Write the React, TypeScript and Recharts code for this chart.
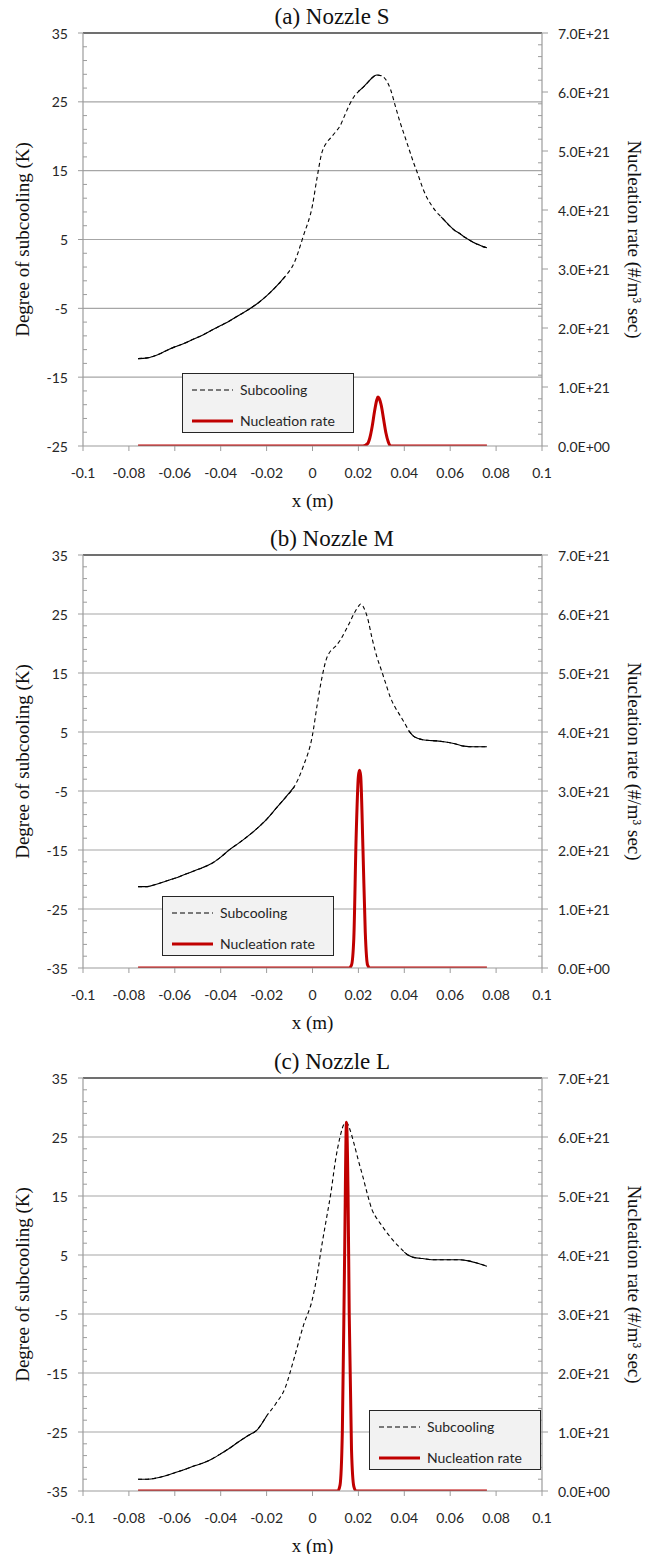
import {
  LineChart,
  Line,
  XAxis,
  YAxis,
  ReferenceLine,
  Legend,
} from "recharts";

// x positions (m) and tick labels shared by all three panels
const X_TICKS = [-0.1, -0.08, -0.06, -0.04, -0.02, 0, 0.02, 0.04, 0.06, 0.08, 0.1];
const E21 = 1e21;

// (a) Nozzle S
const A_SUB_X = [
  -0.076, -0.072, -0.068, -0.064, -0.06, -0.056, -0.052, -0.048, -0.044, -0.04,
  -0.036, -0.032, -0.028, -0.024, -0.02, -0.016, -0.012, -0.008, -0.004, 0,
  0.002, 0.004, 0.006, 0.008, 0.01, 0.012, 0.014, 0.016, 0.018, 0.02, 0.022,
  0.024, 0.026, 0.028, 0.03, 0.032, 0.034, 0.036, 0.038, 0.04, 0.042, 0.044,
  0.046, 0.048, 0.05, 0.052, 0.054, 0.056, 0.058, 0.06, 0.062, 0.064, 0.066,
  0.068, 0.07, 0.072, 0.074, 0.076,
];
const A_SUB_Y = [
  -12.3, -12.2, -11.8, -11.2, -10.6, -10.1, -9.5, -8.9, -8.2, -7.5, -6.8, -6.0,
  -5.2, -4.3, -3.2, -1.9, -0.4, 1.6, 5.5, 10.0, 14.0, 17.5, 19.0, 19.8, 20.6,
  21.5, 23.0, 24.5, 25.7, 26.5, 27.1, 27.8, 28.5, 28.9, 28.8, 28.2, 26.8, 24.5,
  22.2, 20.2, 18.2, 16.2, 14.4, 12.5, 11.0, 9.9, 9.0, 8.3, 7.6, 6.9, 6.3, 5.9,
  5.4, 5.0, 4.6, 4.3, 4.0, 3.8,
];
const A_NUC_X = [-0.076, 0.022, 0.024, 0.025, 0.026, 0.027, 0.028, 0.0285, 0.029, 0.03, 0.031, 0.032, 0.033, 0.034, 0.076];
const A_NUC_Y = [0, 0, 0.04, 0.14, 0.33, 0.58, 0.78, 0.83, 0.81, 0.68, 0.45, 0.22, 0.07, 0, 0];

// (b) Nozzle M
const B_SUB_X = [
  -0.076, -0.072, -0.068, -0.064, -0.06, -0.056, -0.052, -0.048, -0.044, -0.04,
  -0.036, -0.032, -0.028, -0.024, -0.02, -0.016, -0.012, -0.008, -0.004, 0,
  0.002, 0.004, 0.006, 0.008, 0.01, 0.012, 0.014, 0.016, 0.018, 0.02, 0.021,
  0.022, 0.024, 0.026, 0.028, 0.03, 0.032, 0.034, 0.036, 0.038, 0.04, 0.042,
  0.044, 0.046, 0.048, 0.05, 0.054, 0.058, 0.062, 0.066, 0.07, 0.076,
];
const B_SUB_Y = [
  -21.2, -21.2, -20.8, -20.3, -19.8, -19.2, -18.6, -18.0, -17.3, -16.2, -14.9,
  -13.8, -12.6, -11.3, -9.8, -8.0, -6.2, -4.3, -0.8, 4.5, 9.5, 14.0, 17.3, 18.8,
  19.5, 20.5, 21.9, 23.4, 25.0, 26.3, 26.7, 26.3, 24.3, 20.8, 17.8, 15.5, 13.1,
  10.8, 9.2, 7.9, 6.6, 5.2, 4.3, 3.9, 3.7, 3.6, 3.5, 3.3, 3.0, 2.6, 2.5, 2.5,
];
const B_NUC_X = [-0.076, 0.016, 0.017, 0.018, 0.019, 0.02, 0.0205, 0.021, 0.022, 0.023, 0.024, 0.025, 0.076];
const B_NUC_Y = [0, 0, 0.05, 0.5, 2.2, 3.25, 3.35, 3.25, 2.0, 0.6, 0.05, 0, 0];

// (c) Nozzle L
const C_SUB_X = [
  -0.076, -0.072, -0.068, -0.064, -0.06, -0.056, -0.052, -0.048, -0.044, -0.04,
  -0.036, -0.032, -0.028, -0.024, -0.02, -0.016, -0.012, -0.008, -0.004, 0,
  0.002, 0.004, 0.006, 0.008, 0.01, 0.012, 0.014, 0.015, 0.016, 0.018, 0.02,
  0.022, 0.024, 0.026, 0.028, 0.03, 0.032, 0.034, 0.036, 0.038, 0.04, 0.042,
  0.044, 0.048, 0.052, 0.056, 0.06, 0.064, 0.068, 0.072, 0.076,
];
const C_SUB_Y = [
  -33.0, -33.0, -32.8, -32.4, -31.9, -31.4, -30.8, -30.3, -29.6, -28.7, -27.7,
  -26.6, -25.6, -24.6, -22.3, -20.2, -17.6, -12.5, -7.0, -2.4, 1.5, 6.5, 11.0,
  15.5, 21.0, 25.0, 27.3, 27.4, 26.6, 24.0, 21.0, 18.2, 15.2, 12.6, 11.2, 10.1,
  9.0, 8.0, 7.1, 6.3, 5.5, 4.9, 4.6, 4.4, 4.2, 4.2, 4.2, 4.2, 4.0, 3.6, 3.1,
];
const C_NUC_X = [-0.076, 0.011, 0.012, 0.013, 0.014, 0.0148, 0.0155, 0.016, 0.017, 0.018, 0.019, 0.076];
const C_NUC_Y = [0, 0, 0.1, 1.0, 4.0, 6.25, 5.0, 3.0, 0.7, 0.08, 0, 0];

const AXIS = "#9c9c9c";
const GRID = "#a6a6a6";
const TEXT = "#262626";
const TICK_FONT = { fill: TEXT, fontSize: 14, fontFamily: "Lato" };
const SERIF = "'Liberation Serif', 'Times New Roman', serif";
const PLOT_LEFT = 83;
const PLOT_RIGHT = 542;

type Pt = { x: number; y: number };

const zip = (xs: number[], ys: number[], scale = 1): Pt[] =>
  xs.map((x, i) => ({ x, y: ys[i] * scale }));

const steps = (from: number, to: number, step: number) => {
  const out: number[] = [];
  for (let v = from; v <= to + 1e-9; v += step) out.push(Math.round(v * 1000) / 1000);
  return out;
};

// right axis: labels every 1E21, small inner ticks every 0.2E21
const RATE_TICKS = steps(0, 7, 0.2).map((v) => v * E21);

const sci = (v: number) => {
  if (v === 0) return "0.0E+00";
  const e = Math.floor(Math.log10(v) + 1e-9);
  return `${(v / 10 ** e).toFixed(1)}E+${e}`;
};

// Excel style: long ticks outside for labelled values, short ticks inside otherwise
const makeLeftTick = (yMin: number) => (props: any) => {
  const { y, payload } = props;
  const v = payload.value as number;
  const major = Math.abs((v - yMin) % 10) < 1e-6;
  return (
    <g>
      {major ? (
        <>
          <line x1={PLOT_LEFT - 5} x2={PLOT_LEFT} y1={y} y2={y} stroke={AXIS} />
          <text x={PLOT_LEFT - 15} y={y} textAnchor="end" dominantBaseline="central" {...TICK_FONT}>
            {v}
          </text>
        </>
      ) : (
        <line x1={PLOT_LEFT} x2={PLOT_LEFT + 4} y1={y} y2={y} stroke={AXIS} />
      )}
    </g>
  );
};

const RightTick = (props: any) => {
  const { y, payload } = props;
  const v = payload.value as number;
  const major = Math.round(v / 1e20) % 10 === 0;
  return (
    <g>
      {major ? (
        <>
          <line x1={PLOT_RIGHT} x2={PLOT_RIGHT + 6} y1={y} y2={y} stroke={AXIS} />
          <text x={PLOT_RIGHT + 16} y={y} textAnchor="start" dominantBaseline="central" {...TICK_FONT}>
            {sci(v)}
          </text>
        </>
      ) : (
        <line x1={PLOT_RIGHT - 4} x2={PLOT_RIGHT} y1={y} y2={y} stroke={AXIS} />
      )}
    </g>
  );
};

const LeftTitle = (props: any) => {
  const vb = props.viewBox || { y: 33, height: 413 };
  const cy = vb.y + vb.height / 2;
  return (
    <text x={22} y={cy} transform={`rotate(-90 22 ${cy})`} textAnchor="middle"
      dominantBaseline="central" fontFamily={SERIF} fontSize={19} fill="#111">
      Degree of subcooling (K)
    </text>
  );
};

const RightTitle = (props: any) => {
  const vb = props.viewBox || { y: 33, height: 413 };
  const cy = vb.y + vb.height / 2;
  return (
    <text x={634} y={cy} transform={`rotate(90 634 ${cy})`} textAnchor="middle"
      dominantBaseline="central" fontFamily={SERIF} fontSize={19} fill="#111">
      Nucleation rate (#/m³ sec)
    </text>
  );
};

const XTitle = (props: any) => {
  const vb = props.viewBox || { x: 83, y: 446, width: 459 };
  return (
    <text x={vb.x + vb.width / 2} y={vb.y + 54} textAnchor="middle"
      dominantBaseline="central" fontFamily={SERIF} fontSize={19} fill="#111">
      x (m)
    </text>
  );
};

const LegendBox = () => (
  <div
    style={{
      width: 172,
      height: 60,
      boxSizing: "border-box",
      border: "1.5px solid #262626",
      background: "#f2f2f2",
      fontFamily: "Lato",
      fontSize: 14,
      color: TEXT,
      position: "relative",
    }}
  >
    <svg width={44} height={60} style={{ position: "absolute", left: 8, top: 0 }}>
      <line x1={1} y1={16} x2={42} y2={16} stroke="#000" strokeWidth={1} strokeDasharray="5 3" />
      <line x1={1} y1={47} x2={42} y2={47} stroke="#c00000" strokeWidth={3} />
    </svg>
    <div style={{ position: "absolute", left: 57, top: 6, lineHeight: "20px" }}>Subcooling</div>
    <div style={{ position: "absolute", left: 57, top: 37, lineHeight: "20px" }}>Nucleation rate</div>
  </div>
);

interface PanelProps {
  title: string;
  top: number;
  yMin: number;
  sub: Pt[];
  nuc: Pt[];
  // x ranges where the densely sampled curve reads as a solid stroke
  solid: [number, number][];
  legendLeft: number;
  legendTop: number;
}

const NozzlePanel = ({ title, top, yMin, sub, nuc, solid, legendLeft, legendTop }: PanelProps) => {
  const yMajor = steps(yMin, 35, 10);
  const yTicks = steps(yMin, 35, 2);

  return (
    <div style={{ position: "absolute", left: 0, top, width: 660, height: 522 }}>
      <LineChart width={660} height={522} margin={{ top: 33, right: 0, bottom: 16, left: 0 }}>
        {yMajor.slice(1, -1).map((v) => (
          <ReferenceLine key={v} yAxisId="left" y={v} stroke={GRID} strokeWidth={1.2} />
        ))}
        <ReferenceLine yAxisId="left" y={35} stroke="#404040" strokeWidth={1.6} />

        <XAxis
          dataKey="x"
          type="number"
          domain={[-0.1, 0.1]}
          ticks={X_TICKS}
          interval={0}
          allowDataOverflow
          height={60}
          tickSize={5}
          tickMargin={17}
          tickFormatter={(v: number) => String(v)}
          axisLine={{ stroke: AXIS, strokeWidth: 1.2 }}
          tickLine={{ stroke: AXIS }}
          tick={TICK_FONT}
          label={{ content: XTitle }}
        />
        <YAxis
          yAxisId="left"
          type="number"
          domain={[yMin, 35]}
          ticks={yTicks}
          interval={0}
          allowDataOverflow
          width={83}
          axisLine={{ stroke: AXIS, strokeWidth: 1.2 }}
          tickLine={false}
          tick={makeLeftTick(yMin)}
          label={{ content: LeftTitle }}
        />
        <YAxis
          yAxisId="right"
          orientation="right"
          type="number"
          domain={[0, 7e21]}
          ticks={RATE_TICKS}
          interval={0}
          allowDataOverflow
          width={118}
          axisLine={{ stroke: AXIS, strokeWidth: 1.2 }}
          tickLine={false}
          tick={RightTick}
          label={{ content: RightTitle }}
        />

        <Line
          yAxisId="left"
          data={sub}
          dataKey="y"
          name="Subcooling"
          type="monotone"
          stroke="#000"
          strokeWidth={1.1}
          strokeDasharray="4 3"
          dot={false}
          activeDot={false}
          isAnimationActive={false}
        />
        {solid.map(([lo, hi], i) => (
          <Line
            key={i}
            yAxisId="left"
            data={sub.filter((p) => p.x >= lo && p.x <= hi)}
            dataKey="y"
            legendType="none"
            type="monotone"
            stroke="#000"
            strokeWidth={1.1}
            dot={false}
            activeDot={false}
            isAnimationActive={false}
          />
        ))}
        <Line
          yAxisId="right"
          data={nuc}
          dataKey="y"
          name="Nucleation rate"
          type="monotone"
          stroke="#c00000"
          strokeWidth={3}
          dot={false}
          activeDot={false}
          isAnimationActive={false}
        />

        <Legend
          layout="horizontal"
          align="center"
          verticalAlign="middle"
          content={LegendBox}
          wrapperStyle={{ left: legendLeft, top: legendTop, width: 172, height: 60 }}
        />
      </LineChart>

      <div
        style={{
          position: "absolute",
          left: 0,
          top: 3,
          width: 664,
          textAlign: "center",
          fontFamily: SERIF,
          fontSize: 23,
          lineHeight: "28px",
          color: "#111",
        }}
      >
        {title}
      </div>
    </div>
  );
};

export default function App() {
  return (
    <div style={{ position: "absolute", left: 0, top: 0, width: 660, height: 1554, background: "#fff" }}>
      <NozzlePanel
        title="(a) Nozzle S"
        top={0}
        yMin={-25}
        sub={zip(A_SUB_X, A_SUB_Y)}
        nuc={zip(A_NUC_X, A_NUC_Y, E21)}
        solid={[[-0.08, -0.012], [0.02, 0.03], [0.056, 0.08]]}
        legendLeft={182}
        legendTop={373}
      />
      <NozzlePanel
        title="(b) Nozzle M"
        top={522}
        yMin={-35}
        sub={zip(B_SUB_X, B_SUB_Y)}
        nuc={zip(B_NUC_X, B_NUC_Y, E21)}
        solid={[[-0.08, -0.008], [0.042, 0.08]]}
        legendLeft={162}
        legendTop={374}
      />
      <NozzlePanel
        title="(c) Nozzle L"
        top={1045}
        yMin={-35}
        sub={zip(C_SUB_X, C_SUB_Y)}
        nuc={zip(C_NUC_X, C_NUC_Y, E21)}
        solid={[[-0.08, -0.02], [0.04, 0.08]]}
        legendLeft={369}
        legendTop={365}
      />
    </div>
  );
}
